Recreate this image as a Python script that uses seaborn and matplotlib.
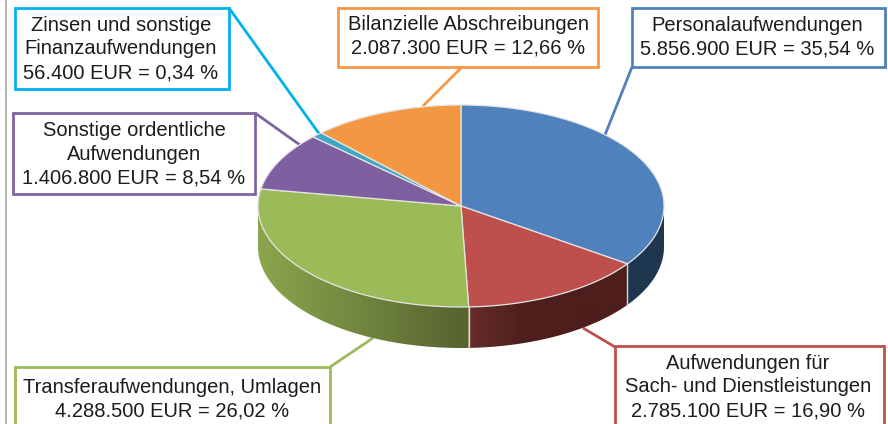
import numpy as np
import matplotlib
matplotlib.use("Agg")
import matplotlib.pyplot as plt
from matplotlib.patches import Polygon, Rectangle
import seaborn as sns

# slices clockwise from 12 o'clock
names = ["Personalaufwendungen",
         "Aufwendungen für\nSach- und Dienstleistungen",
         "Transferaufwendungen, Umlagen",
         "Sonstige ordentliche\nAufwendungen",
         "Zinsen und sonstige\nFinanzaufwendungen",
         "Bilanzielle Abschreibungen"]
amounts = ["5.856.900", "2.785.100", "4.288.500", "1.406.800", "56.400", "2.087.300"]
percents = ["35,54", "16,90", "26,02", "8,54", "0,34", "12,66"]
# share of the ellipse each slice takes up in the picture (tilt distorts them)
drawn_shares = [34.7, 14.7, 28.3, 9.3, 0.9, 12.1]

top_colors = ["#4f81bd", "#bf4f4c", "#9bbb59", "#7e60a0", "#3fa6c5", "#f49742"]
box_colors = ["#4f81bd", "#c0504d", "#9bbb59", "#8064a2", "#00b0f0", "#f79646"]
# wall colours left to right on screen
side_ramps = [("#1f3650", "#1f3650"), ("#4d1e1c", "#4d1e1c", "#4e1f1d"), ("#8aa64c", "#566330")]
side_ramps[1] = ("#672d2a", "#4f1f1d", "#4d1e1c", "#4d1e1c")

# box x0, y0, x1, y1 in pixels, then the leader line
boxes = [(632, 8, 885, 67), (615, 346, 884, 430), (15, 367, 330, 430),
         (13, 113, 255, 194), (15, 8, 229, 89), (338, 8, 598, 67)]
leaders = [((632, 67), (605, 135)), ((615, 347), (583, 328)), ((330, 367), (373, 338)),
           ((255, 113), (300, 145)), ((229, 8), (320, 135)), ((462, 67), (423, 106))]
text_pos = [(757, 37), (748, 387), (172, 399), (134, 154), (121, 49), (468, 36)]

cx, cy, rx, ry, depth = 461, 206, 203, 101, 41

sns.set_theme(style="white")
plt.rcParams["font.family"] = ["Liberation Sans", "DejaVu Sans"]

fig = plt.figure(figsize=(8.88, 4.24), dpi=100)
ax = fig.add_axes([0, 0, 1, 1])
ax.axis("off")


def rim(a, b, n=120):
    t = np.radians(np.linspace(a, b, n))
    return cx + rx * np.sin(t), cy - ry * np.cos(t)


edges = np.concatenate([[0], np.cumsum(drawn_shares)]) / sum(drawn_shares) * 360

# page edge on the left
ax.plot([6, 6], [0, 424], color="#a6a6a6", lw=1.2)

# leaders go under the pie
for (p, q), c in zip(leaders, box_colors):
    ax.plot([p[0], q[0]], [p[1], q[1]], color=c, lw=2.0, zorder=1, solid_capstyle="butt")

# side wall, only the part that faces the viewer, gradient runs left to right
for i, stops in enumerate(side_ramps):
    xs, ys = rim(max(edges[i], 90), min(edges[i + 1], 270))
    wall = np.column_stack([np.r_[xs, xs[::-1]], np.r_[ys, ys[::-1] + depth]])
    ramp = np.array(sns.blend_palette(list(stops), 128))[None, :, :3]
    img = ax.imshow(ramp, extent=(xs.min(), xs.max(), ys.max() + depth, ys.min()),
                    aspect="auto", zorder=2, interpolation="bilinear")
    img.set_clip_path(Polygon(wall, transform=ax.transData))

# light seams on the wall
for e in edges[1:3]:
    x, y = rim(e, e, 1)
    ax.plot([x[0], x[0]], [y[0], y[0] + depth], color="#d9d9d9", lw=1, zorder=3)

# top face
for i, c in enumerate(top_colors):
    xs, ys = rim(edges[i], edges[i + 1])
    pts = np.column_stack([np.r_[cx, xs], np.r_[cy, ys]])
    ax.add_patch(Polygon(pts, fc=c, ec="#e4e4e4", lw=0.9, zorder=4, joinstyle="round"))

# callouts
for i, name in enumerate(names):
    x0, y0, x1, y1 = boxes[i]
    ax.add_patch(Rectangle((x0, y0), x1 - x0, y1 - y0, fc="white", ec=box_colors[i], lw=2.0, zorder=5))
    label = f"{name}\n{amounts[i]} EUR = {percents[i]} %"
    ax.text(text_pos[i][0], text_pos[i][1], label, ha="center", va="center", fontsize=14.5,
            color="#1c1c1c", linespacing=1.33, zorder=6)

ax.set_xlim(0, 888)
ax.set_ylim(424, 0)
fig.savefig("out.png", dpi=100)
